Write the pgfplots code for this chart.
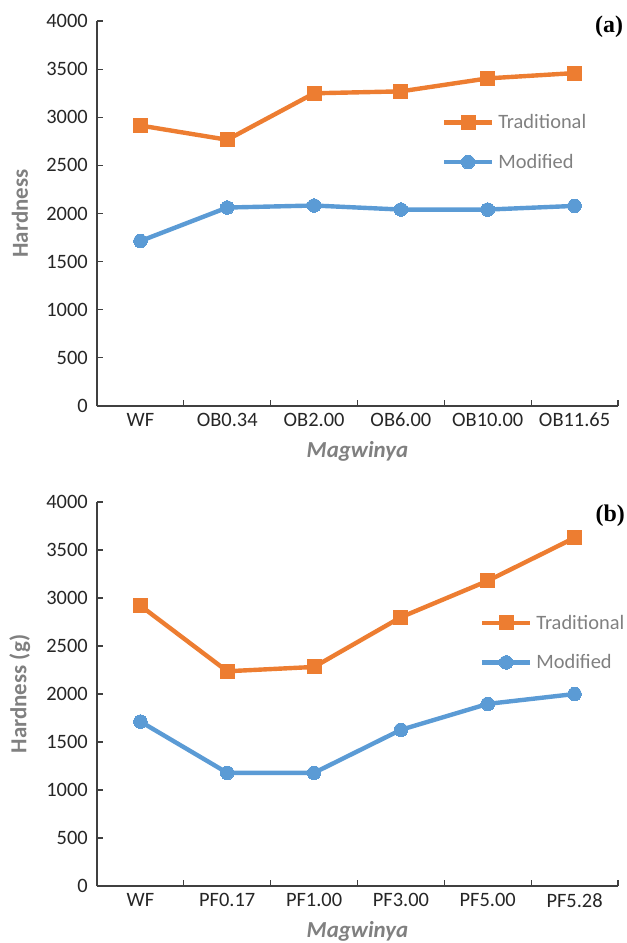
\documentclass[border=0pt]{standalone}
\usepackage{fontspec}
\setmainfont{Carlito}
\newfontfamily\tnr{Liberation Serif}
\usepackage{pgfplots}
\pgfplotsset{compat=1.18}
\definecolor{trad}{HTML}{ED7D31}
\definecolor{modi}{HTML}{5B9BD5}
\definecolor{lab}{HTML}{808080}
\definecolor{axc}{HTML}{404040}
\newcommand{\fs}{\fontsize{20.5}{24}\selectfont}
\newcommand{\fl}{\fontsize{23}{27}\selectfont}
\pgfplotsset{
  panel/.style={
    scale only axis, width=521bp, height=385bp, clip=false,
    xmin=-0.5, xmax=5.5, ymin=0, ymax=4000,
    axis x line*=bottom, axis y line*=left,
    axis line style={axc, line width=1.1bp},
    every tick/.style={axc, line width=1.1bp},
    tick align=inside,
    major tick length=6bp, minor tick length=6bp,
    xtick={0,...,5}, major x tick style={draw=none},
    minor xtick={-0.5,0.5,...,5.5},
    ytick={0,500,...,4000},
    /pgf/number format/assume math mode=true,
    /pgf/number format/1000 sep={},
    tick label style={font=\fs, text=black!85},
    yticklabel style={inner sep=0pt, xshift=-9bp},
    xticklabel style={inner sep=0pt, yshift=-7bp},
    ylabel style={font=\fl\bfseries, text=lab, at={(axis description cs:-0.148,0.5)}, anchor=center, rotate=0},
    xlabel style={font=\fl\bfseries\itshape, text=lab, at={(axis description cs:0.5,-0.119)}, anchor=center},
    legend style={draw=none, fill=none, inner sep=0pt, outer sep=0pt,
      nodes={inner sep=0pt, text=lab, font=\fs, anchor=west}, row sep=24bp, column sep=4bp, legend cell align=left},
    legend image code/.code={\draw[mark repeat=2,mark phase=2,#1] plot coordinates {(0bp,0bp) (24bp,0bp) (48bp,0bp)};},
  },
  tr/.style={trad, line width=4.4bp, mark=square*, mark size=7bp, mark options={line width=0pt}},
  md/.style={modi, line width=4.4bp, mark=*, mark size=6.8bp, mark options={line width=0pt}},
}
\begin{document}
\begin{tikzpicture}
\useasboundingbox (0,0) rectangle (627bp,-943bp);
\begin{axis}[panel, at={(97bp,-406bp)}, anchor=south west,
  xticklabels={WF,OB0.34,OB2.00,OB6.00,OB10.00,OB11.65},
  xlabel={Magwinya}, ylabel={Hardness},
  legend style={at={(rel axis cs:0.662,0.757)}, anchor=north west}]
\addplot[tr] coordinates {(0,2914) (1,2766) (2,3249) (3,3269) (4,3404) (5,3459)};
\addlegendentry{Traditional}
\addplot[md] coordinates {(0,1714) (1,2062) (2,2083) (3,2041) (4,2041) (5,2079)};
\addlegendentry{Modified}
\node[font=\fontsize{24}{28}\selectfont\tnr\bfseries, anchor=center] at (rel axis cs:0.983,0.985) {(a)};
\end{axis}
\begin{axis}[panel, at={(97bp,-886bp)}, anchor=south west, height=384bp,
  xticklabels={WF,PF0.17,PF1.00,PF3.00,PF5.00,PF5.28},
  xlabel={Magwinya}, ylabel={Hardness (g)},
  legend style={at={(rel axis cs:0.735,0.706)}, anchor=north west}]
\addplot[tr] coordinates {(0,2920) (1,2237) (2,2282) (3,2800) (4,3179) (5,3627)};
\addlegendentry{Traditional}
\addplot[md] coordinates {(0,1713) (1,1179) (2,1179) (3,1627) (4,1897) (5,2000)};
\addlegendentry{Modified}
\node[font=\fontsize{24}{28}\selectfont\tnr\bfseries, anchor=center] at (rel axis cs:0.985,0.963) {(b)};
\end{axis}
\end{tikzpicture}
\end{document}
